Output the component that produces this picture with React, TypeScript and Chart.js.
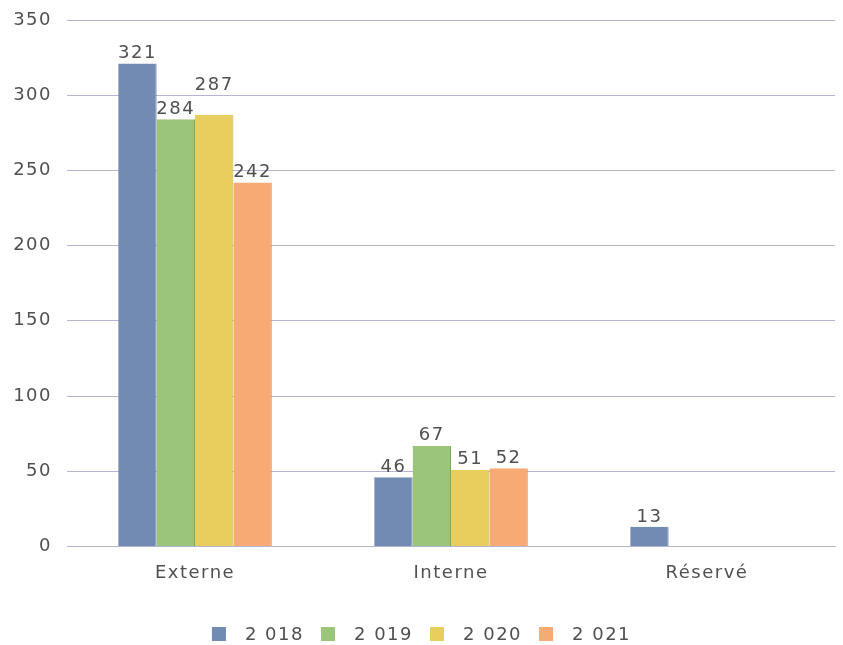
import React, { useEffect, useRef } from "react";
import { Chart, registerables } from "chart.js";

Chart.register(...registerables);

const categories = ["Externe", "Interne", "Réservé"];
const seriesLabels = ["2 018", "2 019", "2 020", "2 021"];
const values2018 = [321, 46, 13];
const values2019 = [284, 67, null];
const values2020 = [287, 51, null];
const values2021 = [242, 52, null];
const colors = ["#728BB2", "#9BC57A", "#E8CE5C", "#F7AA74"];
const edgeColors = ["#5A6F92", "#7FA962", "#C9AF45", "#D98D5A"];

const FONT = "'DejaVu Sans', sans-serif";
const FS = 18;
const TEXT = "#505050";
const LS = "1.5px";

const spacing = {
  id: "spacing",
  beforeUpdate(chart: any) {
    chart.ctx.letterSpacing = LS;
  },
  beforeDraw(chart: any) {
    chart.ctx.letterSpacing = LS;
  },
};

const valueLabels = {
  id: "valueLabels",
  afterDatasetsDraw(chart: any) {
    const ctx = chart.ctx;
    ctx.save();
    ctx.letterSpacing = LS;
    ctx.font = `${FS}px ${FONT}`;
    ctx.fillStyle = TEXT;
    ctx.textAlign = "center";
    ctx.textBaseline = "bottom";
    const placed: { l: number; r: number; t: number; b: number }[] = [];
    chart.data.datasets.forEach((ds: any, i: number) => {
      const meta = chart.getDatasetMeta(i);
      meta.data.forEach((bar: any, j: number) => {
        const v = ds.data[j];
        if (v === null || v === undefined) return;
        const w = ctx.measureText(String(v)).width;
        const h = 20;
        let bottom = bar.y - 1;
        let box = { l: bar.x - w / 2, r: bar.x + w / 2, t: bottom - h, b: bottom };
        for (let iter = 0; iter < 10; iter++) {
          let hit = false;
          for (const p of placed) {
            if (box.l < p.r && box.r > p.l && box.t < p.b && box.b > p.t) {
              bottom = p.t - 4;
              box = { l: box.l, r: box.r, t: bottom - h, b: bottom };
              hit = true;
            }
          }
          if (!hit) break;
        }
        placed.push(box);
        ctx.fillText(String(v), bar.x, bottom);
      });
    });
    ctx.restore();
  },
};

const customLegend = {
  id: "customLegend",
  afterDraw(chart: any) {
    const ctx = chart.ctx;
    ctx.save();
    ctx.letterSpacing = LS;
    ctx.font = `${FS}px ${FONT}`;
    const box = 14;
    const gapText = 19;
    const gapItem = 17;
    const widths = seriesLabels.map((s) => ctx.measureText(s).width);
    const total =
      widths.reduce((a, b) => a + b, 0) + seriesLabels.length * (box + gapText) + (seriesLabels.length - 1) * gapItem;
    let x = chart.width / 2 - total / 2;
    const cy = 634;
    seriesLabels.forEach((s, i) => {
      ctx.fillStyle = colors[i];
      ctx.fillRect(x, cy - box / 2, box, box);
      x += box + gapText;
      ctx.fillStyle = TEXT;
      ctx.textAlign = "left";
      ctx.textBaseline = "middle";
      ctx.fillText(s, x, cy + 1);
      x += widths[i] + gapItem;
    });
    ctx.restore();
  },
};

export default function App() {
  const ref = useRef<HTMLCanvasElement | null>(null);
  useEffect(() => {
    if (!ref.current) return;
    const all = [values2018, values2019, values2020, values2021];
    const chart = new Chart(ref.current, {
      type: "bar",
      data: {
        labels: categories,
        datasets: all.map((d, i) => ({
          label: seriesLabels[i],
          data: d,
          backgroundColor: colors[i],
          borderColor: edgeColors[i],
          borderWidth: { top: 0, left: 0, right: 1, bottom: 0 },
          categoryPercentage: 0.6,
          barPercentage: 1,
        })),
      },
      options: {
        animation: false,
        responsive: false,
        maintainAspectRatio: false,
        layout: { padding: { top: 20, right: 8, left: 0, bottom: 53 } },
        plugins: {
          legend: { display: false },
          tooltip: { enabled: false },
        },
        scales: {
          x: {
            grid: { display: false },
            border: { display: true, color: "#B4B4D4" },
            ticks: {
              font: { family: FONT, size: FS },
              color: TEXT,
              padding: 8,
            },
          },
          y: {
            min: 0,
            max: 350,
            ticks: {
              stepSize: 50,
              font: { family: FONT, size: FS },
              color: TEXT,
              padding: 15,
            },
            grid: { color: "#B4B4D4", drawTicks: false },
            border: { display: false },
            afterFit(scale: any) {
              scale.width = 67;
              scale.paddingTop = 0;
              scale.paddingBottom = 0;
            },
          },
        },
      },
      plugins: [spacing, valueLabels, customLegend],
    });
    return () => chart.destroy();
  }, []);
  return (
    <div style={{ position: "fixed", left: 0, top: 0, width: 843, height: 645, background: "#fff" }}>
      <canvas ref={ref} width={843} height={645} />
    </div>
  );
}
